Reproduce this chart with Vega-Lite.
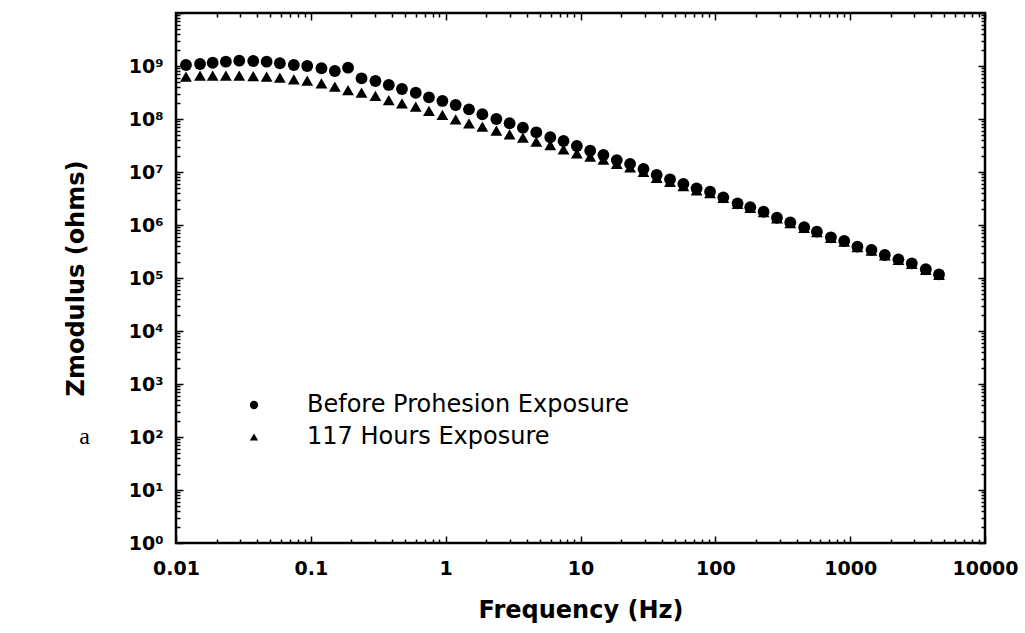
{
  "$schema": "https://vega.github.io/schema/vega-lite/v6.json",
  "autosize": {"type": "none"},
  "padding": {"left": 176, "top": 13, "right": 40, "bottom": 90},
  "width": 809,
  "height": 530,
  "background": "white",
  "config": {
    "font": "DejaVu Sans",
    "view": {"stroke": "black", "strokeWidth": 2.5},
    "axis": {
      "domain": false,
      "grid": false,
      "labelFlush": false,
      "labelOverlap": false,
      "tickColor": "black",
      "tickWidth": 1.5,
      "labelFont": "DejaVu Sans",
      "labelFontWeight": "bold",
      "labelFontSize": 19,
      "labelColor": "black",
      "titleFont": "DejaVu Sans",
      "titleFontWeight": "bold",
      "titleFontSize": 24,
      "titleColor": "black"
    },
    "legend": {
      "orient": "none",
      "legendX": 66,
      "legendY": 380,
      "padding": 0,
      "labelFont": "DejaVu Sans",
      "labelFontSize": 24,
      "labelColor": "black",
      "labelLimit": 0,
      "labelOffset": 41,
      "rowPadding": 8,
      "symbolSize": 70,
      "symbolFillColor": "black",
      "symbolStrokeColor": "black",
      "symbolStrokeWidth": 0
    }
  },
  "datasets": {
    "main": [
      {"f": 0.01186, "z": 6.28e8, "series": "117 Hours Exposure"},
      {"f": 0.01507, "z": 6.56e8, "series": "117 Hours Exposure"},
      {"f": 0.01871, "z": 6.56e8, "series": "117 Hours Exposure"},
      {"f": 0.02344, "z": 6.56e8, "series": "117 Hours Exposure"},
      {"f": 0.02944, "z": 6.56e8, "series": "117 Hours Exposure"},
      {"f": 0.03741, "z": 6.47e8, "series": "117 Hours Exposure"},
      {"f": 0.0470, "z": 6.28e8, "series": "117 Hours Exposure"},
      {"f": 0.0589, "z": 6.01e8, "series": "117 Hours Exposure"},
      {"f": 0.0748, "z": 5.61e8, "series": "117 Hours Exposure"},
      {"f": 0.0940, "z": 5.28e8, "series": "117 Hours Exposure"},
      {"f": 0.1199, "z": 4.72e8, "series": "117 Hours Exposure"},
      {"f": 0.1507, "z": 4.07e8, "series": "117 Hours Exposure"},
      {"f": 0.1888, "z": 3.52e8, "series": "117 Hours Exposure"},
      {"f": 0.2377, "z": 3.13e8, "series": "117 Hours Exposure"},
      {"f": 0.3013, "z": 2.72e8, "series": "117 Hours Exposure"},
      {"f": 0.3784, "z": 2.28e8, "series": "117 Hours Exposure"},
      {"f": 0.4742, "z": 1.98e8, "series": "117 Hours Exposure"},
      {"f": 0.600, "z": 1.71e8, "series": "117 Hours Exposure"},
      {"f": 0.7516, "z": 1.42e8, "series": "117 Hours Exposure"},
      {"f": 0.946, "z": 1.19e8, "series": "117 Hours Exposure"},
      {"f": 1.186, "z": 9.87e7, "series": "117 Hours Exposure"},
      {"f": 1.489, "z": 8.30e7, "series": "117 Hours Exposure"},
      {"f": 1.871, "z": 7.16e7, "series": "117 Hours Exposure"},
      {"f": 2.377, "z": 6.01e7, "series": "117 Hours Exposure"},
      {"f": 2.979, "z": 5.14e7, "series": "117 Hours Exposure"},
      {"f": 3.741, "z": 4.44e7, "series": "117 Hours Exposure"},
      {"f": 4.699, "z": 3.73e7, "series": "117 Hours Exposure"},
      {"f": 5.970, "z": 3.23e7, "series": "117 Hours Exposure"},
      {"f": 7.482, "z": 2.68e7, "series": "117 Hours Exposure"},
      {"f": 9.397, "z": 2.25e7, "series": "117 Hours Exposure"},
      {"f": 11.80, "z": 1.95e7, "series": "117 Hours Exposure"},
      {"f": 14.79, "z": 1.72e7, "series": "117 Hours Exposure"},
      {"f": 18.58, "z": 1.42e7, "series": "117 Hours Exposure"},
      {"f": 23.33, "z": 1.22e7, "series": "117 Hours Exposure"},
      {"f": 29.31, "z": 1.0e7, "series": "117 Hours Exposure"},
      {"f": 36.73, "z": 7.71e6, "series": "117 Hours Exposure"},
      {"f": 46.13, "z": 6.53e6, "series": "117 Hours Exposure"},
      {"f": 57.94, "z": 5.44e6, "series": "117 Hours Exposure"},
      {"f": 72.61, "z": 4.52e6, "series": "117 Hours Exposure"},
      {"f": 91.41, "z": 3.98e6, "series": "117 Hours Exposure"},
      {"f": 114.6, "z": 3.25e6, "series": "117 Hours Exposure"},
      {"f": 146.2, "z": 2.50e6, "series": "117 Hours Exposure"},
      {"f": 181.6, "z": 2.11e6, "series": "117 Hours Exposure"},
      {"f": 228.0, "z": 1.74e6, "series": "117 Hours Exposure"},
      {"f": 286.4, "z": 1.34e6, "series": "117 Hours Exposure"},
      {"f": 359.7, "z": 1.09e6, "series": "117 Hours Exposure"},
      {"f": 456.0, "z": 8.85e5, "series": "117 Hours Exposure"},
      {"f": 566.2, "z": 7.31e5, "series": "117 Hours Exposure"},
      {"f": 719.5, "z": 5.73e5, "series": "117 Hours Exposure"},
      {"f": 903.6, "z": 4.88e5, "series": "117 Hours Exposure"},
      {"f": 1132, "z": 3.81e5, "series": "117 Hours Exposure"},
      {"f": 1439, "z": 3.29e5, "series": "117 Hours Exposure"},
      {"f": 1807, "z": 2.66e5, "series": "117 Hours Exposure"},
      {"f": 2280, "z": 2.20e5, "series": "117 Hours Exposure"},
      {"f": 2864, "z": 1.85e5, "series": "117 Hours Exposure"},
      {"f": 3639, "z": 1.43e5, "series": "117 Hours Exposure"},
      {"f": 4560, "z": 1.14e5, "series": "117 Hours Exposure"},
      {"f": 0.01186, "z": 1.045e9, "series": "Before Prohesion Exposure"},
      {"f": 0.01507, "z": 1.091e9, "series": "Before Prohesion Exposure"},
      {"f": 0.01871, "z": 1.153e9, "series": "Before Prohesion Exposure"},
      {"f": 0.02344, "z": 1.205e9, "series": "Before Prohesion Exposure"},
      {"f": 0.02944, "z": 1.259e9, "series": "Before Prohesion Exposure"},
      {"f": 0.03741, "z": 1.242e9, "series": "Before Prohesion Exposure"},
      {"f": 0.0470, "z": 1.205e9, "series": "Before Prohesion Exposure"},
      {"f": 0.0589, "z": 1.125e9, "series": "Before Prohesion Exposure"},
      {"f": 0.0748, "z": 1.045e9, "series": "Before Prohesion Exposure"},
      {"f": 0.0940, "z": 1.0e9, "series": "Before Prohesion Exposure"},
      {"f": 0.1199, "z": 9.06e8, "series": "Before Prohesion Exposure"},
      {"f": 0.1507, "z": 8.05e8, "series": "Before Prohesion Exposure"},
      {"f": 0.1888, "z": 9.29e8, "series": "Before Prohesion Exposure"},
      {"f": 0.2377, "z": 5.86e8, "series": "Before Prohesion Exposure"},
      {"f": 0.3013, "z": 5.21e8, "series": "Before Prohesion Exposure"},
      {"f": 0.3784, "z": 4.39e8, "series": "Before Prohesion Exposure"},
      {"f": 0.4742, "z": 3.68e8, "series": "Before Prohesion Exposure"},
      {"f": 0.600, "z": 3.13e8, "series": "Before Prohesion Exposure"},
      {"f": 0.7516, "z": 2.56e8, "series": "Before Prohesion Exposure"},
      {"f": 0.946, "z": 2.19e8, "series": "Before Prohesion Exposure"},
      {"f": 1.186, "z": 1.84e8, "series": "Before Prohesion Exposure"},
      {"f": 1.489, "z": 1.52e8, "series": "Before Prohesion Exposure"},
      {"f": 1.871, "z": 1.23e8, "series": "Before Prohesion Exposure"},
      {"f": 2.377, "z": 1.0e8, "series": "Before Prohesion Exposure"},
      {"f": 2.979, "z": 8.30e7, "series": "Before Prohesion Exposure"},
      {"f": 3.741, "z": 6.85e7, "series": "Before Prohesion Exposure"},
      {"f": 4.699, "z": 5.61e7, "series": "Before Prohesion Exposure"},
      {"f": 5.970, "z": 4.52e7, "series": "Before Prohesion Exposure"},
      {"f": 7.482, "z": 3.85e7, "series": "Before Prohesion Exposure"},
      {"f": 9.397, "z": 3.10e7, "series": "Before Prohesion Exposure"},
      {"f": 11.80, "z": 2.52e7, "series": "Before Prohesion Exposure"},
      {"f": 14.79, "z": 2.09e7, "series": "Before Prohesion Exposure"},
      {"f": 18.58, "z": 1.68e7, "series": "Before Prohesion Exposure"},
      {"f": 23.33, "z": 1.42e7, "series": "Before Prohesion Exposure"},
      {"f": 29.31, "z": 1.14e7, "series": "Before Prohesion Exposure"},
      {"f": 36.73, "z": 8.77e6, "series": "Before Prohesion Exposure"},
      {"f": 46.13, "z": 7.28e6, "series": "Before Prohesion Exposure"},
      {"f": 57.94, "z": 5.94e6, "series": "Before Prohesion Exposure"},
      {"f": 72.61, "z": 4.92e6, "series": "Before Prohesion Exposure"},
      {"f": 91.41, "z": 4.25e6, "series": "Before Prohesion Exposure"},
      {"f": 114.6, "z": 3.33e6, "series": "Before Prohesion Exposure"},
      {"f": 146.2, "z": 2.56e6, "series": "Before Prohesion Exposure"},
      {"f": 181.6, "z": 2.16e6, "series": "Before Prohesion Exposure"},
      {"f": 228.0, "z": 1.78e6, "series": "Before Prohesion Exposure"},
      {"f": 286.4, "z": 1.37e6, "series": "Before Prohesion Exposure"},
      {"f": 359.7, "z": 1.12e6, "series": "Before Prohesion Exposure"},
      {"f": 456.0, "z": 9.06e5, "series": "Before Prohesion Exposure"},
      {"f": 566.2, "z": 7.48e5, "series": "Before Prohesion Exposure"},
      {"f": 719.5, "z": 5.86e5, "series": "Before Prohesion Exposure"},
      {"f": 903.6, "z": 4.99e5, "series": "Before Prohesion Exposure"},
      {"f": 1132, "z": 3.90e5, "series": "Before Prohesion Exposure"},
      {"f": 1439, "z": 3.37e5, "series": "Before Prohesion Exposure"},
      {"f": 1807, "z": 2.72e5, "series": "Before Prohesion Exposure"},
      {"f": 2280, "z": 2.25e5, "series": "Before Prohesion Exposure"},
      {"f": 2864, "z": 1.89e5, "series": "Before Prohesion Exposure"},
      {"f": 3639, "z": 1.46e5, "series": "Before Prohesion Exposure"},
      {"f": 4560, "z": 1.17e5, "series": "Before Prohesion Exposure"}
    ],
    "panel": [
      {"f": 0.0021, "z": 100, "t": "a"}
    ]
  },
  "resolve": {"scale": {"x": "independent", "y": "independent"}},
  "layer": [
    {
      "data": {"name": "main"},
      "mark": {"type": "point", "filled": true, "color": "black", "opacity": 1, "size": 140},
      "encoding": {
        "x": {
          "field": "f", "type": "quantitative",
          "scale": {"type": "log", "domain": [0.01, 10000]},
          "axis": {
            "orient": "bottom",
            "title": "Frequency (Hz)",
            "titlePadding": 17,
            "labelPadding": 23,
            "values": [0.01,0.02,0.03,0.04,0.05,0.06,0.07,0.08,0.09,0.1,0.2,0.3,0.4,0.5,0.6,0.7,0.8,0.9,1,2,3,4,5,6,7,8,9,10,20,30,40,50,60,70,80,90,100,200,300,400,500,600,700,800,900,1000,2000,3000,4000,5000,6000,7000,8000,9000,10000],
            "labelExpr": "abs(log(datum.value)/LN10 - round(log(datum.value)/LN10)) < 0.001 ? format(datum.value, '') : ''",
            "tickSize": {"condition": {"test": "abs(log(datum.value)/LN10 - round(log(datum.value)/LN10)) < 0.001", "value": -7}, "value": -4}
          }
        },
        "y": {
          "field": "z", "type": "quantitative",
          "scale": {"type": "log", "domain": [1, 1e10]},
          "axis": {
            "orient": "left",
            "title": "Zmodulus (ohms)",
            "titlePadding": 40,
            "labelPadding": 20,
            "values": [1,2,3,4,5,6,7,8,9,10,20,30,40,50,60,70,80,90,100,200,300,400,500,600,700,800,900,1e3,2e3,3e3,4e3,5e3,6e3,7e3,8e3,9e3,1e4,2e4,3e4,4e4,5e4,6e4,7e4,8e4,9e4,1e5,2e5,3e5,4e5,5e5,6e5,7e5,8e5,9e5,1e6,2e6,3e6,4e6,5e6,6e6,7e6,8e6,9e6,1e7,2e7,3e7,4e7,5e7,6e7,7e7,8e7,9e7,1e8,2e8,3e8,4e8,5e8,6e8,7e8,8e8,9e8,1e9,2e9,3e9,4e9,5e9,6e9,7e9,8e9,9e9,1e10],
            "labelExpr": "(abs(log(datum.value)/LN10 - round(log(datum.value)/LN10)) < 0.001 && datum.value < 5e9) ? '10' + ['⁰','¹','²','³','⁴','⁵','⁶','⁷','⁸','⁹'][round(log(datum.value)/LN10)] : ''",
            "tickSize": {"condition": {"test": "abs(log(datum.value)/LN10 - round(log(datum.value)/LN10)) < 0.001", "value": -7}, "value": -4}
          }
        },
        "shape": {
          "field": "series", "type": "nominal",
          "scale": {"domain": ["Before Prohesion Exposure", "117 Hours Exposure"], "range": ["circle", "triangle-up"]},
          "legend": {"title": null}
        }
      }
    },
    {
      "data": {"name": "main"},
      "mark": {"type": "point", "opacity": 0},
      "encoding": {
        "x": {
          "field": "f", "type": "quantitative",
          "scale": {"type": "log", "domain": [0.01, 10000]},
          "axis": {
            "orient": "top", "title": null, "labels": false,
            "values": [0.01,0.02,0.03,0.04,0.05,0.06,0.07,0.08,0.09,0.1,0.2,0.3,0.4,0.5,0.6,0.7,0.8,0.9,1,2,3,4,5,6,7,8,9,10,20,30,40,50,60,70,80,90,100,200,300,400,500,600,700,800,900,1000,2000,3000,4000,5000,6000,7000,8000,9000,10000],
            "tickSize": {"condition": {"test": "abs(log(datum.value)/LN10 - round(log(datum.value)/LN10)) < 0.001", "value": -7}, "value": -4}
          }
        },
        "y": {
          "field": "z", "type": "quantitative",
          "scale": {"type": "log", "domain": [1, 1e10]},
          "axis": {
            "orient": "right", "title": null, "labels": false,
            "values": [1,2,3,4,5,6,7,8,9,10,20,30,40,50,60,70,80,90,100,200,300,400,500,600,700,800,900,1e3,2e3,3e3,4e3,5e3,6e3,7e3,8e3,9e3,1e4,2e4,3e4,4e4,5e4,6e4,7e4,8e4,9e4,1e5,2e5,3e5,4e5,5e5,6e5,7e5,8e5,9e5,1e6,2e6,3e6,4e6,5e6,6e6,7e6,8e6,9e6,1e7,2e7,3e7,4e7,5e7,6e7,7e7,8e7,9e7,1e8,2e8,3e8,4e8,5e8,6e8,7e8,8e8,9e8,1e9,2e9,3e9,4e9,5e9,6e9,7e9,8e9,9e9,1e10],
            "tickSize": {"condition": {"test": "abs(log(datum.value)/LN10 - round(log(datum.value)/LN10)) < 0.001", "value": -7}, "value": -4}
          }
        }
      }
    },
    {
      "data": {"name": "panel"},
      "mark": {"type": "text", "font": "Liberation Serif", "fontSize": 24, "color": "black"},
      "encoding": {
        "x": {"field": "f", "type": "quantitative", "scale": {"type": "log", "domain": [0.01, 10000]}, "axis": null},
        "y": {"field": "z", "type": "quantitative", "scale": {"type": "log", "domain": [1, 1e10]}, "axis": null},
        "text": {"field": "t"}
      }
    }
  ]
}
